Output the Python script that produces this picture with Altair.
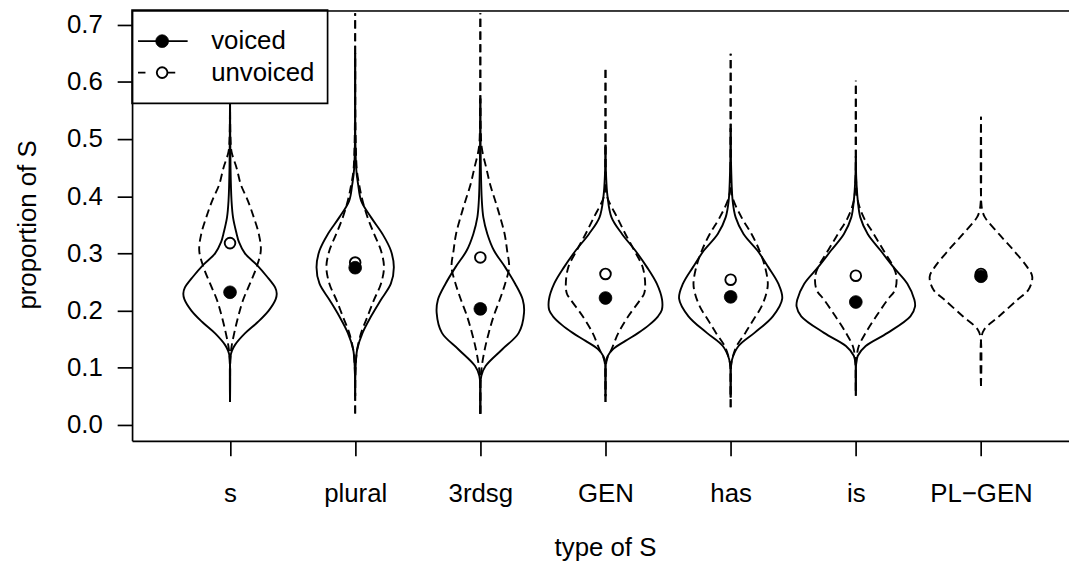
import altair as alt
import pandas as pd

categories = ["s", "plural", "3rdsg", "GEN", "has", "is", "PL\u2212GEN"]
series_names = ["voiced", "unvoiced"]

median_voiced = [0.232, 0.275, 0.203, 0.222, 0.224, 0.215, 0.260]
median_unvoiced = [0.318, 0.284, 0.293, 0.264, 0.254, 0.261, 0.264]

# Violin outlines: proportion-of-S levels and density half-widths (category units)
voiced_levels = {
    "s": [0.04, 0.12, 0.13, 0.14, 0.16, 0.18, 0.20, 0.22, 0.23, 0.24, 0.26, 0.28, 0.30, 0.32, 0.334, 0.363, 0.392, 0.45, 0.60],
    "plural": [0.05, 0.103, 0.132, 0.161, 0.19, 0.219, 0.247, 0.276, 0.305, 0.334, 0.363, 0.392, 0.42, 0.449, 0.65],
    "3rdsg": [0.019, 0.086, 0.103, 0.132, 0.161, 0.196, 0.219, 0.247, 0.276, 0.305, 0.334, 0.363, 0.392, 0.45, 0.571],
    "GEN": [0.05, 0.11, 0.12, 0.133, 0.147, 0.161, 0.175, 0.19, 0.201, 0.219, 0.247, 0.276, 0.305, 0.334, 0.363, 0.40, 0.44, 0.49],
    "has": [0.048, 0.10, 0.115, 0.138, 0.161, 0.19, 0.221, 0.247, 0.276, 0.305, 0.334, 0.363, 0.392, 0.45, 0.519],
    "is": [0.051, 0.105, 0.121, 0.138, 0.161, 0.19, 0.207, 0.219, 0.247, 0.276, 0.305, 0.334, 0.363, 0.392, 0.43, 0.47],
    "PL\u2212GEN": [],
}
voiced_widths = {
    "s": [0, 0.004, 0.016, 0.040, 0.119, 0.222, 0.309, 0.365, 0.373, 0.361, 0.293, 0.214, 0.119, 0.071, 0.053, 0.024, 0.012, 0.004, 0],
    "plural": [0, 0.004, 0.016, 0.059, 0.127, 0.206, 0.285, 0.309, 0.285, 0.218, 0.127, 0.048, 0.024, 0.008, 0],
    "3rdsg": [0, 0.008, 0.042, 0.174, 0.307, 0.349, 0.339, 0.278, 0.198, 0.109, 0.056, 0.024, 0.012, 0.004, 0],
    "GEN": [0, 0.004, 0.016, 0.063, 0.159, 0.262, 0.349, 0.420, 0.450, 0.452, 0.410, 0.331, 0.238, 0.132, 0.048, 0.016, 0.004, 0],
    "has": [0, 0.002, 0.012, 0.063, 0.190, 0.337, 0.412, 0.381, 0.301, 0.214, 0.103, 0.040, 0.016, 0.004, 0],
    "is": [0, 0.002, 0.016, 0.079, 0.254, 0.436, 0.473, 0.468, 0.412, 0.301, 0.198, 0.095, 0.036, 0.016, 0.004, 0],
    "PL\u2212GEN": [],
}
unvoiced_levels = {
    "s": [0.04, 0.12, 0.138, 0.161, 0.19, 0.219, 0.247, 0.276, 0.305, 0.334, 0.363, 0.392, 0.42, 0.449, 0.478, 0.50, 0.59],
    "plural": [0.02, 0.103, 0.132, 0.161, 0.19, 0.219, 0.247, 0.276, 0.305, 0.334, 0.363, 0.392, 0.42, 0.449, 0.72],
    "3rdsg": [0.02, 0.08, 0.103, 0.132, 0.161, 0.19, 0.219, 0.247, 0.276, 0.305, 0.334, 0.363, 0.392, 0.42, 0.449, 0.484, 0.52, 0.72],
    "GEN": [0.04, 0.10, 0.115, 0.132, 0.161, 0.19, 0.219, 0.23, 0.247, 0.276, 0.305, 0.334, 0.363, 0.40, 0.43, 0.626],
    "has": [0.031, 0.10, 0.115, 0.138, 0.161, 0.184, 0.207, 0.23, 0.247, 0.276, 0.305, 0.334, 0.363, 0.40, 0.43, 0.649],
    "is": [0.06, 0.105, 0.121, 0.138, 0.161, 0.19, 0.219, 0.236, 0.259, 0.276, 0.305, 0.334, 0.363, 0.392, 0.43, 0.602],
    "PL\u2212GEN": [0.068, 0.15, 0.167, 0.19, 0.219, 0.236, 0.259, 0.276, 0.305, 0.334, 0.363, 0.374, 0.39, 0.539],
}
unvoiced_widths = {
    "s": [0, 0.004, 0.013, 0.034, 0.066, 0.105, 0.159, 0.212, 0.246, 0.230, 0.190, 0.143, 0.087, 0.053, 0.012, 0.004, 0],
    "plural": [0, 0.004, 0.016, 0.048, 0.099, 0.151, 0.206, 0.230, 0.206, 0.151, 0.099, 0.059, 0.032, 0.012, 0],
    "3rdsg": [0, 0.002, 0.012, 0.035, 0.067, 0.106, 0.155, 0.198, 0.230, 0.214, 0.194, 0.159, 0.119, 0.079, 0.048, 0.012, 0.003, 0],
    "GEN": [0, 0.002, 0.012, 0.048, 0.103, 0.182, 0.278, 0.309, 0.317, 0.297, 0.230, 0.159, 0.093, 0.012, 0.002, 0],
    "has": [0, 0.002, 0.012, 0.048, 0.117, 0.182, 0.246, 0.285, 0.297, 0.275, 0.230, 0.167, 0.087, 0.012, 0.002, 0],
    "is": [0, 0.002, 0.008, 0.024, 0.079, 0.163, 0.254, 0.313, 0.325, 0.301, 0.222, 0.143, 0.063, 0.016, 0.002, 0],
    "PL\u2212GEN": [0, 0.002, 0.026, 0.145, 0.291, 0.378, 0.410, 0.370, 0.262, 0.143, 0.032, 0.012, 0.002, 0],
}

y_ticks = [0.0, 0.1, 0.2, 0.3, 0.4, 0.5, 0.6, 0.7]

FONT = "Liberation Sans"
FS = 26
LW = 1.9
AW = 1.7
DASH = [8.2, 4.6]

# ---- build tables ----
rows = []
for i, cat in enumerate(categories):
    pos = i + 1
    for sname, lv, wd in (("voiced", voiced_levels, voiced_widths),
                          ("unvoiced", unvoiced_levels, unvoiced_widths)):
        for side in (-1, 1):
            for k, (v, w) in enumerate(zip(lv[cat], wd[cat])):
                rows.append({"cat": cat, "series": sname, "k": k,
                             "grp": f"{cat}|{sname}|{side}",
                             "x": pos + side * w, "y": v})
vio = pd.DataFrame(rows)

med = pd.DataFrame({
    "x": list(range(1, len(categories) + 1)) * 2,
    "y": median_voiced + median_unvoiced,
    "series": ["voiced"] * len(categories) + ["unvoiced"] * len(categories),
})

W, H = 944, 434
xscale = alt.Scale(domain=[0.2173, 7.7034], nice=False, zero=False)
yscale = alt.Scale(domain=[-0.02777, 0.72551], nice=False, zero=False)

label_arr = "[" + ",".join("'" + c + "'" for c in categories) + "]"
xaxis = alt.Axis(values=list(range(1, len(categories) + 1)),
                 labelExpr=label_arr + "[datum.value - 1]",
                 title="type of S", grid=False, tickSize=15, tickWidth=AW,
                 tickColor="black", domainColor="black", domainWidth=AW,
                 labelFont=FONT, labelFontSize=FS, labelColor="black",
                 labelPadding=46, labelBaseline="alphabetic", labelFlush=False,
                 labelOverlap=False, labelBound=False,
                 titleFont=FONT, titleFontSize=FS, titleFontWeight="normal",
                 titleColor="black", titleX=476.5, titleY=116,
                 titleBaseline="alphabetic", titleAlign="center", zindex=1)
yaxis = alt.Axis(values=y_ticks, format=".1f", title="proportion of S",
                 grid=False, tickSize=15, tickWidth=AW, tickColor="black",
                 domainColor="black", domainWidth=AW,
                 labelFont=FONT, labelFontSize=FS, labelColor="black",
                 labelPadding=15, labelAlign="right", labelBaseline="middle",
                 labelFlush=False, labelOverlap=False, labelBound=False,
                 titleFont=FONT, titleFontSize=FS, titleFontWeight="normal",
                 titleColor="black", titleAngle=270, titleX=-97, titleY=216,
                 titleBaseline="alphabetic", titleAlign="center", zindex=1)

X = alt.X("x:Q", scale=xscale, axis=xaxis)
Y = alt.Y("y:Q", scale=yscale, axis=yaxis)

solid = alt.Chart(vio).transform_filter(alt.datum.series == "voiced").mark_line(
    color="black", strokeWidth=LW, interpolate="catmull-rom"
).encode(x=X, y=Y, detail="grp:N", order="k:Q")

dashed = alt.Chart(vio).transform_filter(alt.datum.series == "unvoiced").mark_line(
    color="black", strokeWidth=LW, strokeDash=DASH, interpolate="catmull-rom"
).encode(x=X, y=Y, detail="grp:N", order="k:Q")

open_pts = alt.Chart(med).transform_filter(alt.datum.series == "unvoiced").mark_point(
    shape="circle", filled=True, fill="white", stroke="black",
    strokeWidth=LW, size=115, opacity=1
).encode(x=X, y=Y)

filled_pts = alt.Chart(med).transform_filter(alt.datum.series == "voiced").mark_point(
    shape="circle", filled=True, fill="black", stroke="black",
    strokeWidth=0.8, size=165, opacity=1
).encode(x=X, y=Y)

one = pd.DataFrame({"a": [0]})
leg_box = alt.Chart(one).mark_rect(fill="white", stroke="black", strokeWidth=AW).encode(
    x=alt.value(0), x2=alt.value(197), y=alt.value(0), y2=alt.value(94))
leg_line1 = alt.Chart(one).mark_rule(color="black", strokeWidth=LW).encode(
    x=alt.value(6), x2=alt.value(56), y=alt.value(31.3))
leg_line2 = alt.Chart(one).mark_rule(color="black", strokeWidth=LW, strokeDash=[7.5, 22.5]).encode(
    x=alt.value(6), x2=alt.value(46), y=alt.value(63))
leg_open = alt.Chart(one).mark_point(shape="circle", filled=True, fill="white", stroke="black",
                                     strokeWidth=LW, size=115, opacity=1).encode(
    x=alt.value(30.3), y=alt.value(63))
leg_fill = alt.Chart(one).mark_point(shape="circle", filled=True, fill="black", stroke="black",
                                     strokeWidth=0.8, size=165, opacity=1).encode(
    x=alt.value(30.3), y=alt.value(31.3))
leg_txt1 = alt.Chart(one).mark_text(text=series_names[0], font=FONT, fontSize=FS, align="left",
                                    baseline="middle", color="black").encode(
    x=alt.value(79.7), y=alt.value(31.3))
leg_txt2 = alt.Chart(one).mark_text(text=series_names[1], font=FONT, fontSize=FS, align="left",
                                    baseline="middle", color="black").encode(
    x=alt.value(79.7), y=alt.value(63))

top_rule = alt.Chart(one).mark_rule(color="black", strokeWidth=AW).encode(
    x=alt.value(0), x2=alt.value(W), y=alt.value(0.9))

chart = alt.layer(
    solid, dashed, open_pts, filled_pts,
    leg_box, leg_line1, leg_line2, leg_open, leg_fill, leg_txt1, leg_txt2,
    top_rule
).properties(
    width=W, height=H,
    autosize=alt.AutoSizeParams(type="none"),
    padding={"left": 125, "top": 0, "right": 0, "bottom": 122},
).configure_view(stroke=None).configure(font=FONT, background="white")

chart.save("out.html", embed_options={"renderer": "svg", "actions": False})
